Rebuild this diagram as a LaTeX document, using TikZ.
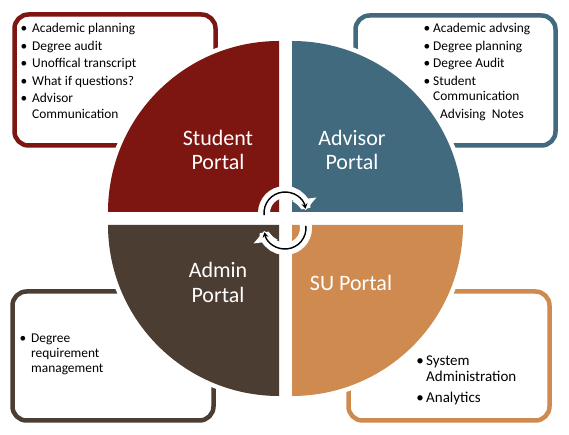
\documentclass[tikz,border=0pt]{standalone}
\usepackage{fontspec}
\setmainfont{Carlito}
\usetikzlibrary{arrows.meta}
\definecolor{cred}{HTML}{7D1510}
\definecolor{cblue}{HTML}{426A7F}
\definecolor{cbrown}{HTML}{4C3D33}
\definecolor{corange}{HTML}{CF8A50}
\tikzset{
  listbox/.style={line width=4.5pt, rounded corners=14pt, fill=white},
  halo/.style={draw=white, line width=9pt},
  qlabel/.style={text=white, font=\fontsize{22}{26}\selectfont, anchor=base, inner sep=0pt},
  item/.style={font=\fontsize{13.4}{16}\selectfont, anchor=base west, inner sep=0pt},
  bigitem/.style={font=\fontsize{15}{18}\selectfont, anchor=base west, inner sep=0pt},
  bul/.style={font=\fontsize{13.4}{16}\selectfont, anchor=base, inner sep=0pt},
  bigbul/.style={font=\fontsize{15}{18}\selectfont, anchor=base, inner sep=0pt},
  wband/.style={draw=white, line width=12pt, -{Triangle[width=24pt,length=11pt]}},
  kline/.style={draw=black, line width=1.4pt, -{Stealth[length=5pt,width=6pt]}}
}
\begin{document}
\begin{tikzpicture}[x=1pt,y=1pt]
\useasboundingbox (0,0) rectangle (569,435);
\fill[white] (0,0) rectangle (569,435);
% boxes
\draw[listbox, draw=cred] (14.5,289.5) rectangle (215.5,420.5);
\draw[listbox, draw=cblue] (355.5,289.5) rectangle (555.5,419.5);
\draw[listbox, draw=cbrown] (12.5,14.5) rectangle (213.5,143.5);
\draw[listbox, draw=corange] (348.5,14.5) rectangle (549.5,143.5);
% halos
\draw[halo] (108,223) arc[start angle=180,end angle=90,radius=171];
\draw[halo] (292,394) arc[start angle=90,end angle=0,radius=171];
\draw[halo] (108,210) arc[start angle=180,end angle=270,radius=171];
\draw[halo] (463,210) arc[start angle=0,end angle=-90,radius=171];
% quadrants
\fill[cred] (279,223) -- (108,223) arc[start angle=180,end angle=90,radius=171] -- cycle;
\fill[cblue] (292,223) -- (292,394) arc[start angle=90,end angle=0,radius=171] -- cycle;
\fill[cbrown] (279,210) -- (108,210) arc[start angle=180,end angle=270,radius=171] -- cycle;
\fill[corange] (292,210) -- (463,210) arc[start angle=0,end angle=-90,radius=171] -- cycle;
% labels
\node[qlabel] (s1) at (218,289) {Student};
\node[qlabel] (s2) at (218,265) {Portal};
\node[qlabel] (a1) at (352,289) {Advisor};
\node[qlabel] (a2) at (352,265) {Portal};
\node[qlabel] (m1) at (218,157) {Admin};
\node[qlabel] (m2) at (218,132) {Portal};
\node[qlabel] (u1) at (351,144) {SU Portal};
% circular arrows
\coordinate (tc) at (285,222);
\coordinate (bc) at (285,207);
\draw[wband] ([shift={(192:21)}]tc) arc[start angle=192,end angle=8,radius=21];
\draw[kline] ([shift={(186:21)}]tc) arc[start angle=186,end angle=12,radius=21];
\draw[wband] ([shift={(12:21)}]bc) arc[start angle=12,end angle=-172,radius=21];
\draw[kline] ([shift={(6:21)}]bc) arc[start angle=6,end angle=-168,radius=21];
% top-left list
\node[bul] (b11) at (24,402) {•};
\node[item] (t11) at (32,402) {Academic planning};
\node[bul] (b12) at (24,384) {•};
\node[item] (t12) at (32,384) {Degree audit};
\node[bul] (b13) at (24,367) {•};
\node[item] (t13) at (32,367) {Unoffical transcript};
\node[bul] (b14) at (24,349) {•};
\node[item] (t14) at (32,349) {What if questions?};
\node[bul] (b15) at (24,332) {•};
\node[item] (t15) at (32,332) {Advisor};
\node[item] (t16) at (32,316) {Communication};
% top-right list
\node[bul] (b21) at (427,402) {•};
\node[item] (t21) at (433,402) {Academic advsing};
\node[bul] (b22) at (427,384) {•};
\node[item] (t22) at (433,384) {Degree planning};
\node[bul] (b23) at (427,367) {•};
\node[item] (t23) at (433,367) {Degree Audit};
\node[bul] (b24) at (427,349) {•};
\node[item] (t24) at (433,349) {Student};
\node[item] (t25) at (433,334) {Communication};
\node[item] (t26) at (440,316) {Advising\ \ Notes};
% bottom-left list
\node[bul] (b31) at (23,92) {•};
\node[item] (t31) at (31,92) {Degree};
\node[item] (t32) at (31,77) {requirement};
\node[item] (t33) at (31,62) {management};
% bottom-right list
\node[bigbul] (b41) at (420,69) {•};
\node[bigitem] (t41) at (426,69) {System};
\node[bigitem] (t42) at (426,53) {Administration};
\node[bigbul] (b43) at (420,32) {•};
\node[bigitem] (t43) at (426,32) {Analytics};
\end{tikzpicture}
\end{document}
